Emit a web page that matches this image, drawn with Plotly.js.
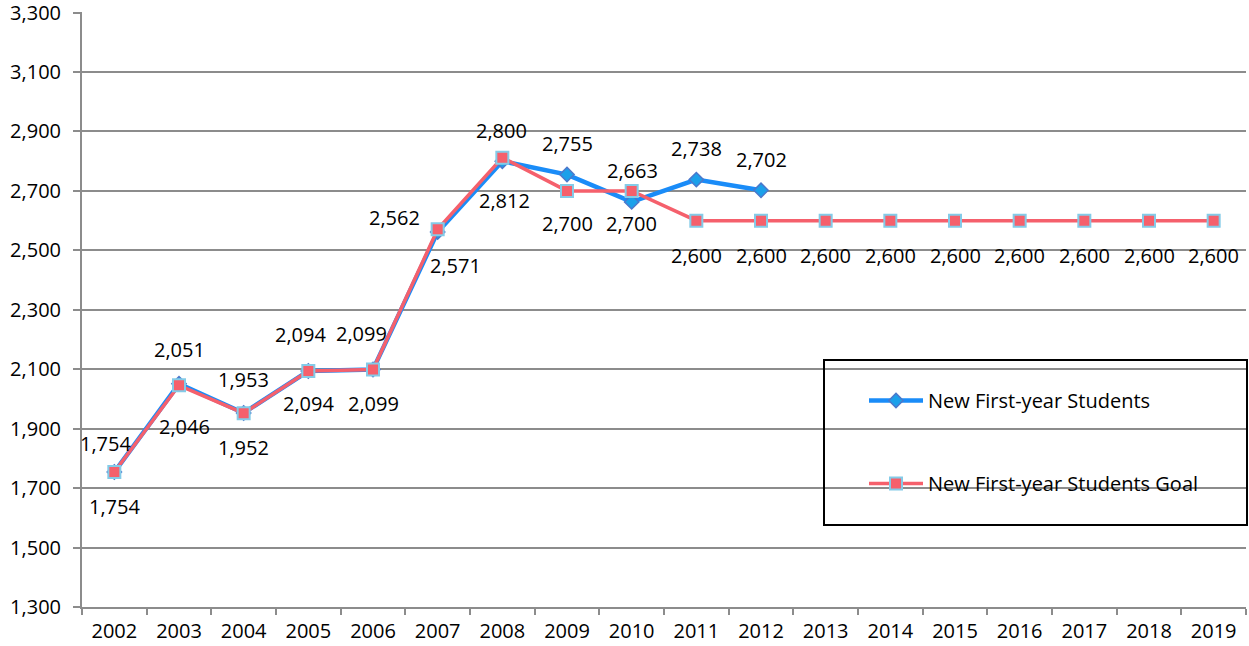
<!DOCTYPE html>
<html>
<head>
<meta charset="utf-8">
<script src="https://cdn.plot.ly/plotly-3.0.1.min.js"></script>
<style>
  html, body { margin: 0; padding: 0; background: #fff; }
  #chart { width: 1249px; height: 646px; }
</style>
</head>
<body>
<div id="chart"></div>
<script>
// ---- data ----
const years = ['2002','2003','2004','2005','2006','2007','2008','2009','2010',
               '2011','2012','2013','2014','2015','2016','2017','2018','2019'];
const newStudents = [1754, 2051, 1953, 2094, 2099, 2562, 2800, 2755, 2663, 2738, 2702];
const studentsGoal = [1754, 2046, 1952, 2094, 2099, 2571, 2812, 2700, 2700,
                      2600, 2600, 2600, 2600, 2600, 2600, 2600, 2600, 2600];
const seriesNames = ['New First-year Students', 'New First-year Students Goal'];
const yTicks = [1300, 1500, 1700, 1900, 2100, 2300, 2500, 2700, 2900, 3100, 3300];

// ---- label offsets (pixels, dx right / dy down) ----
const blueLabelOffset = [[-9,-29],[0,-34],[0,-33],[-8,-37],[-12,-36],[-43,-14],
                         [-1,-31],[0,-31],[1,-31],[0,-31],[0,-31]];
const goalLabelOffset = [[0,34],[5,41],[0,34],[0,32],[0,34],[18,36],[2,43],[0,33],[0,33],
                         [0,35],[0,35],[0,35],[0,35],[0,35],[0,35],[0,35],[0,35],[0,35]];

const BLUE = '#1A8CF8';
const PINK = '#F5606C';
const FONT = 'Open Sans, Noto Sans, sans-serif';
const GRID = '#8C8C8C';
const fmt = v => v.toLocaleString('en-US');

const traces = [
  { type: 'scatter', mode: 'lines+markers', name: seriesNames[0], legendgroup: 'a',
    x: years.slice(0, newStudents.length), y: newStudents,
    line: { color: BLUE, width: 4.5 },
    marker: { symbol: 'diamond', size: 11, color: '#1BA0EA', line: { color: '#4A78CC', width: 1.5 } } },
  { type: 'scatter', mode: 'lines+markers', name: seriesNames[1], legendgroup: 'b',
    x: years, y: studentsGoal,
    line: { color: PINK, width: 3.5 },
    marker: { symbol: 'square', size: 12, color: PINK, line: { color: '#84CBE8', width: 2 } } }
];

// annotations use the category index on the category axis
const annotations = [];
newStudents.forEach((v, i) => annotations.push({
  x: i, y: v, xref: 'x', yref: 'y', text: fmt(v), showarrow: false,
  xshift: blueLabelOffset[i][0], yshift: -blueLabelOffset[i][1],
  font: { family: FONT, size: 20, color: '#000' } }));
studentsGoal.forEach((v, i) => annotations.push({
  x: i, y: v, xref: 'x', yref: 'y', text: fmt(v), showarrow: false,
  xshift: goalLabelOffset[i][0], yshift: -goalLabelOffset[i][1],
  font: { family: FONT, size: 20, color: '#000' } }));

const W = 1249, H = 646;
const mL = 82, mR = 3, mT = 12, mB = 39;
const pw = W - mL - mR, ph = H - mT - mB;
const px = x => (x - mL) / pw;
const py = y => (H - mB - y) / ph;

const layout = {
  width: W, height: H,
  margin: { l: mL, r: mR, t: mT, b: mB, pad: 0 },
  paper_bgcolor: '#fff', plot_bgcolor: '#fff',
  font: { family: FONT, size: 20, color: '#000' },
  showlegend: true,
  legend: { x: px(864), y: py(381), xanchor: 'left', yanchor: 'top',
    bgcolor: 'rgba(0,0,0,0)', borderwidth: 0, tracegroupgap: 54, traceorder: 'grouped',
    itemwidth: 54,
    font: { family: FONT, size: 20, color: '#000' } },
  xaxis: { type: 'category', range: [-0.5, years.length - 0.5],
    tickson: 'boundaries', ticks: 'outside', ticklen: 6, tickwidth: 2, tickcolor: GRID,
    showline: true, linecolor: GRID, linewidth: 2, showgrid: false, zeroline: false,
    ticklabelstandoff: 5, ticklabeloverflow: 'allow',
    tickfont: { family: FONT, size: 20, color: '#000' } },
  yaxis: { range: [1300, 3302], tickvals: yTicks, ticktext: yTicks.map(fmt),
    ticks: 'outside', ticklen: 7, tickwidth: 2, tickcolor: GRID,
    showline: true, linecolor: GRID, linewidth: 2,
    showgrid: true, gridcolor: GRID, gridwidth: 2, zeroline: false,
    ticklabelstandoff: 8, ticklabeloverflow: 'allow',
    tickfont: { family: FONT, size: 20, color: '#000' } },
  annotations: annotations,
  shapes: [{ type: 'rect', xref: 'paper', yref: 'paper',
    x0: px(824), x1: px(1247), y0: py(525), y1: py(360),
    line: { color: '#000', width: 2 }, fillcolor: 'rgba(0,0,0,0)' }]
};

Plotly.newPlot('chart', traces, layout, { displayModeBar: false, staticPlot: true });
</script>
</body>
</html>
